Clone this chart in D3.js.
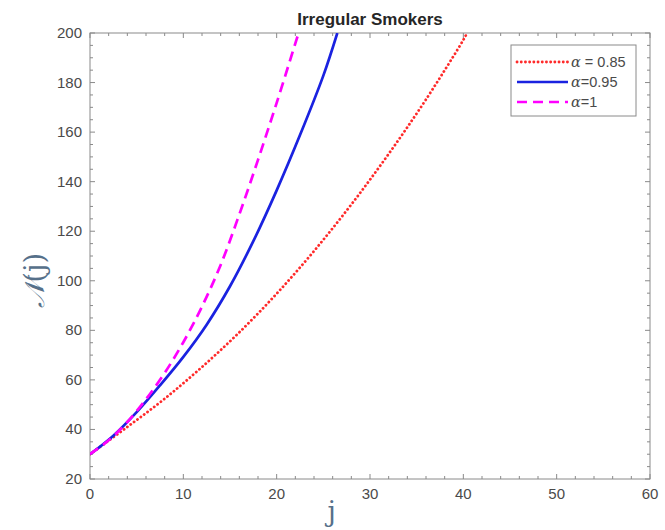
<!DOCTYPE html>
<html>
<head>
<meta charset="utf-8">
<style>
    body { margin: 0; background: #fff; }
    svg { display: block; }
    .tick-label { font-family: "Liberation Sans", Arial, sans-serif; font-size: 15px; fill: #4a4a4a; }
    .title { font-family: "Liberation Sans", Arial, sans-serif; font-size: 17px; font-weight: bold; fill: #262626; }
    .legend-text { font-family: "Liberation Sans", Arial, sans-serif; font-size: 14.5px; fill: #4a4a4a; }
    .greek { font-family: "DejaVu Serif", "Liberation Serif", serif; font-style: italic; }
    .axis-label { font-family: "DejaVu Serif", "Liberation Serif", serif; fill: #56708a; }
</style>
</head>
<body>
<svg width="665" height="530"></svg>
<script src="https://d3js.org/d3.v7.min.js"></script>
<script>
// values
const seriesNames = [" = 0.85", "=0.95", "=1"];

const j085 = [0, 4, 8, 12, 16, 20, 24, 28, 32, 36, 40, 40.4];
const n085 = [30, 41, 52.4, 65.2, 79.2, 94.8, 112, 130.8, 151.2, 173.2, 197.2, 200];

const j095 = [0, 2.5, 5, 7.5, 10, 12.5, 15, 17.5, 20, 22.5, 25, 26.5];
const n095 = [30, 37.5, 47, 57.8, 69.3, 82.3, 97.8, 116, 136.5, 158.8, 182.8, 200];

const j100 = [0, 2, 4, 6, 8, 10, 12, 14, 16, 18, 20, 22, 22.35];
const n100 = [30, 35.6, 43, 52.2, 62.8, 75.2, 89.6, 106.4, 126.8, 148.8, 171.8, 195.8, 200];

const xTicks = [0, 10, 20, 30, 40, 50, 60];
const yTicks = [20, 40, 60, 80, 100, 120, 140, 160, 180, 200];

const svg = d3.select("svg");
const margin = { left: 90, right: 15, top: 33, bottom: 51 };
const W = 665, H = 530;

const x = d3.scaleLinear().domain([0, 60]).range([margin.left, W - margin.right]);
const y = d3.scaleLinear().domain([20, 200]).range([H - margin.bottom, margin.top]);

const x0 = x(0), x1 = x(60), y0 = y(20), y1 = y(200);

// box
svg.append("rect")
    .attr("x", x0).attr("y", y1)
    .attr("width", x1 - x0).attr("height", y0 - y1)
    .attr("fill", "none").attr("stroke", "#8a8a8a").attr("stroke-width", 1);

// inward ticks on all four sides
let tickG = svg.append("g").attr("stroke", "#8a8a8a").attr("stroke-width", 1);
d3.range(0, 61, 2).forEach(v => {
    let len = v % 10 == 0 ? 5 : 3;
    tickG.append("line").attr("x1", x(v)).attr("x2", x(v)).attr("y1", y0).attr("y2", y0 - len);
    tickG.append("line").attr("x1", x(v)).attr("x2", x(v)).attr("y1", y1).attr("y2", y1 + len);
});
d3.range(20, 201, 5).forEach(v => {
    let len = v % 20 == 0 ? 5 : 3;
    tickG.append("line").attr("y1", y(v)).attr("y2", y(v)).attr("x1", x0).attr("x2", x0 + len);
    tickG.append("line").attr("y1", y(v)).attr("y2", y(v)).attr("x1", x1).attr("x2", x1 - len);
});

svg.append("g").selectAll("text")
    .data(xTicks)
    .join("text")
    .attr("class", "tick-label")
    .attr("x", d => x(d))
    .attr("y", y0 + 20)
    .attr("text-anchor", "middle")
    .text(d => d);

svg.append("g").selectAll("text")
    .data(yTicks)
    .join("text")
    .attr("class", "tick-label")
    .attr("x", x0 - 8)
    .attr("y", d => y(d) + 5)
    .attr("text-anchor", "end")
    .text(d => d);

// curves
const series = [
    { name: seriesNames[0], js: j085, ns: n085, color: "#ff2a2a", dash: "0.1 4.1", cap: "round", w: 2.8 },
    { name: seriesNames[1], js: j095, ns: n095, color: "#1a22e0", dash: null, cap: "butt", w: 2.7 },
    { name: seriesNames[2], js: j100, ns: n100, color: "#ff00ff", dash: "10 6", cap: "butt", w: 2.7 }
];

svg.append("clipPath").attr("id", "plot-clip")
    .append("rect").attr("x", x0).attr("y", y1).attr("width", x1 - x0).attr("height", y0 - y1);

const line = d3.line()
    .x(d => x(d[0]))
    .y(d => y(d[1]))
    .curve(d3.curveCatmullRom);

svg.append("g")
    .attr("clip-path", "url(#plot-clip)")
    .selectAll("path")
    .data(series)
    .join("path")
    .attr("d", s => line(s.js.map((v, i) => [v, s.ns[i]])))
    .attr("fill", "none")
    .attr("stroke", s => s.color)
    .attr("stroke-width", s => s.w)
    .attr("stroke-linecap", s => s.cap)
    .attr("stroke-dasharray", s => s.dash);

// legend
const lg = svg.append("g");
lg.append("rect")
    .attr("x", 511).attr("y", 45).attr("width", 125).attr("height", 71)
    .attr("fill", "#fff").attr("stroke", "#8a8a8a").attr("stroke-width", 1);
series.forEach((s, i) => {
    let ly = 62 + i * 20;
    lg.append("line")
        .attr("x1", 517).attr("x2", 568).attr("y1", ly).attr("y2", ly)
        .attr("stroke", s.color).attr("stroke-width", s.w)
        .attr("stroke-linecap", s.cap)
        .attr("stroke-dasharray", s.dash);
    let t = lg.append("text")
        .attr("class", "legend-text")
        .attr("x", 571).attr("y", ly + 5);
    t.append("tspan").attr("class", "greek").text("α");
    t.append("tspan").text(s.name);
});

// title and axis labels
svg.append("text")
    .attr("class", "title")
    .attr("x", (x0 + x1) / 2)
    .attr("y", 25)
    .attr("text-anchor", "middle")
    .text("Irregular Smokers");

let yl = svg.append("text")
    .attr("class", "axis-label")
    .attr("transform", `translate(44, ${y(100)}) rotate(-90)`)
    .attr("text-anchor", "middle")
    .style("font-size", "27px");
yl.append("tspan").style("font-style", "italic").text("𝒩");
yl.append("tspan").text("(j)");

svg.append("text")
    .attr("class", "axis-label")
    .attr("x", x(25.9))
    .attr("y", 521)
    .attr("text-anchor", "middle")
    .style("font-size", "27px")
    .text("j");
</script>
</body>
</html>
